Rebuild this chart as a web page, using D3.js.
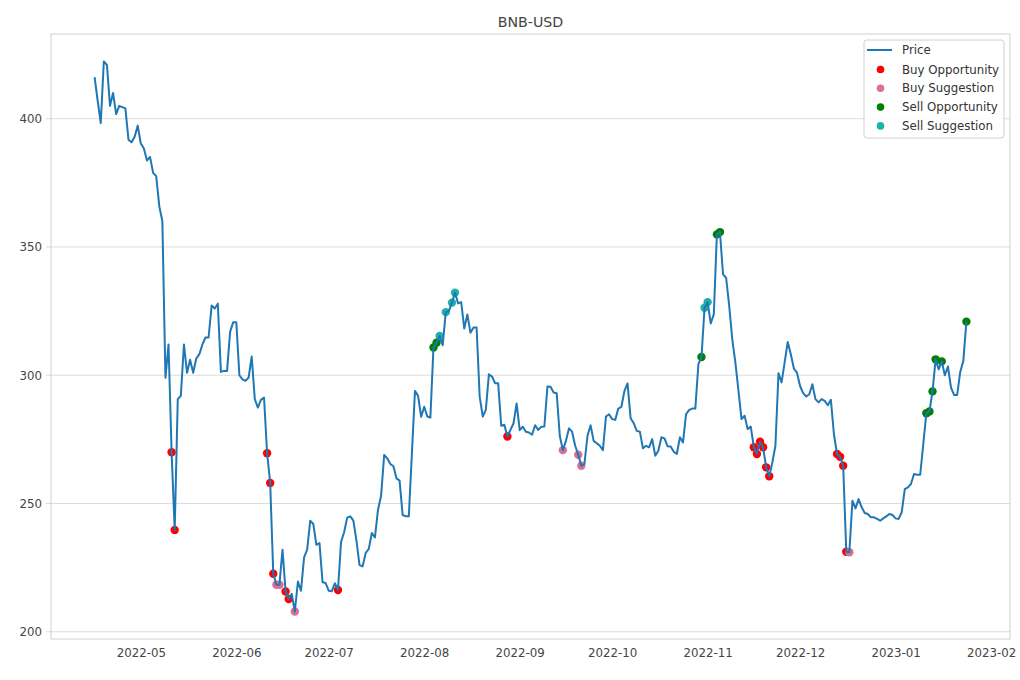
<!DOCTYPE html>
<html>
<head>
<meta charset="utf-8">
<script src="https://cdn.jsdelivr.net/npm/d3@7"></script>
<style>
  body { margin: 0; background: #fff; }
  text { font-family: "DejaVu Sans", sans-serif; }
</style>
</head>
<body>
<svg id="chart" width="1020" height="680"></svg>
<script>
// daily closing prices, starting 2022-04-16
const firstDay = "2022-04-16"
const prices = [
  416.2, 407, 398.3, 422.3, 421, 405, 410, 401.8, 405, 404.5, 404, 391.8, 390.8, 393, 397.3,
  390.3, 388.4, 383.7, 385.1, 378.9, 377.6, 365.9, 360, 299, 312, 270, 239.7, 290.7, 292, 312,
  301, 306, 301, 306.5, 308.2, 312, 314.7, 314.7, 327.2, 326, 327.9, 301.3, 301.7, 301.7, 317, 320.7,
  320.7, 300, 298.4, 297.8, 299.1, 307.3, 290.7, 287.4, 290.4, 291.3, 269.6, 258, 222.6, 218.3, 218.3,
  232, 215.7, 212.8, 214.8, 207.9, 219.6, 216, 229, 232, 243.3, 242, 233.9, 234.6, 219.3, 219,
  216, 215.8, 218.9, 216.3, 235, 238.8, 244.5, 245, 243.3, 235.5, 226, 225.5, 230.7, 232.3, 238.5,
  236.8, 247.6, 253, 268.9, 267.6, 265.4, 264.5, 259.8, 258.9, 245.5, 245, 245, 269.6, 293.9, 292, 283.8,
  287.7, 283.9, 283.5, 310.8, 312.7, 315.3, 311.7, 324.6, 325, 328.3, 332.2, 328, 328.5, 318.2, 323.7,
  316.6, 318.6, 318.6, 291.7, 283.9, 286.5, 300.4, 299.5, 296.9, 296.9, 280.3, 280.7, 276.1, 278.7, 281.3, 289,
  278.6, 279.9, 278, 277.7, 276.8, 280.5, 278.7, 279.9, 280, 295.6, 295.5, 293.3, 293, 276.4, 270.8,
  274.4, 279.3, 278, 272.5, 269, 264.7, 265.4, 276.4, 280.5, 274.4, 273.5, 272.5, 270.8, 283.9, 284.8,
  282.9, 282.6, 287, 287.7, 293.9, 296.8, 283.2, 281.3, 278.3, 278, 271.5, 272.5, 271.9, 275.1, 268.6,
  270.6, 275.8, 275.4, 272.3, 272.2, 270.2, 269.3, 275.8, 273.8, 284.8, 286.5, 287, 287, 304.3, 307.1, 326.3,
  328.5, 320.2, 323.7, 354.9, 355.8, 339.3, 338, 327, 314, 305, 294, 282.9, 284.2, 279, 280,
  271.9, 269.3, 274.1, 271.9, 264.1, 260.6, 266, 272.5, 300.8, 297.2, 305, 313, 308.2, 302.6, 301,
  295.8, 293, 291.7, 292.6, 296.5, 290.7, 289.4, 290.7, 290, 288.3, 290.4, 277, 269.3, 268.2, 264.7,
  231.2, 231, 251.1, 248.1, 251.7, 248.5, 246.3, 245.9, 244.6, 244.6, 244, 243.3, 244.2, 245, 245.9, 245.5,
  244.2, 244, 246.6, 255.6, 256.3, 257.6, 261.5, 261.2, 261.2, 273.2, 285.2, 285.9, 293.7, 306.2, 302.3,
  305.4, 300, 303.4, 295.2, 292.3, 292.3, 301.3, 305.6, 320.9
]

// signal days
const buyOpportunity = ["2022-05-11", "2022-05-12", "2022-06-11", "2022-06-12", "2022-06-13", "2022-06-17",
  "2022-06-18", "2022-07-04", "2022-08-28", "2022-11-16", "2022-11-17", "2022-11-18", "2022-11-19",
  "2022-11-20", "2022-11-21", "2022-12-13", "2022-12-14", "2022-12-15", "2022-12-16"]
const buySuggestion = ["2022-06-14", "2022-06-15", "2022-06-20", "2022-09-15", "2022-09-20", "2022-09-21",
  "2022-12-17"]
const sellOpportunity = ["2022-08-04", "2022-08-05", "2022-10-30", "2022-11-04", "2022-11-05", "2023-01-11",
  "2023-01-12", "2023-01-13", "2023-01-14", "2023-01-16", "2023-01-24"]
const sellSuggestion = ["2022-08-06", "2022-08-08", "2022-08-10", "2022-08-11", "2022-10-31", "2022-11-01"]

const yTicks = [200, 250, 300, 350, 400]
const xTickLabels = ["2022-05", "2022-06", "2022-07", "2022-08", "2022-09", "2022-10", "2022-11", "2022-12", "2023-01", "2023-02"]

const width = 1020
const height = 680
const margin = {top: 34, right: 10, bottom: 41, left: 51}
const fontSize = 11.8

const parseDay = d3.timeParse("%Y-%m-%d")
const parseMonth = d3.timeParse("%Y-%m")
const start = parseDay(firstDay)
const series = prices.map(function(p, i) {
  return {date: d3.timeDay.offset(start, i), price: p}
})
const byDay = new Map(series.map(function(d) { return [d3.timeFormat("%Y-%m-%d")(d.date), d] }))

const svg = d3.select("#chart")

// matplotlib style 5% padding
const xExt = d3.extent(series, function(d) { return d.date })
const xPad = (xExt[1] - xExt[0]) * 0.05
const yExt = d3.extent(series, function(d) { return d.price })
const yPad = (yExt[1] - yExt[0]) * 0.05

const x = d3.scaleTime()
  .domain([new Date(+xExt[0] - xPad), new Date(+xExt[1] + xPad)])
  .range([margin.left, width - margin.right])
const y = d3.scaleLinear()
  .domain([yExt[0] - yPad, yExt[1] + yPad])
  .range([height - margin.bottom, margin.top])

// grid
svg.append("g")
  .selectAll("line")
  .data(yTicks)
  .join("line")
  .attr("x1", margin.left - 5)
  .attr("x2", width - margin.right)
  .attr("y1", function(d) { return y(d) })
  .attr("y2", function(d) { return y(d) })
  .attr("stroke", "#dcdcdc")
  .attr("stroke-width", 1)

// frame
svg.append("rect")
  .attr("x", margin.left)
  .attr("y", margin.top)
  .attr("width", width - margin.left - margin.right)
  .attr("height", height - margin.top - margin.bottom)
  .attr("fill", "none")
  .attr("stroke", "#d0d0d0")
  .attr("stroke-width", 1)

// axes
const xAxis = d3.axisBottom(x)
  .tickValues(xTickLabels.map(parseMonth))
  .tickFormat(d3.timeFormat("%Y-%m"))
  .tickSize(0)
  .tickPadding(10)
svg.append("g")
  .attr("transform", "translate(0," + (height - margin.bottom) + ")")
  .call(xAxis)
  .call(function(g) { g.select(".domain").remove() })
  .selectAll("text")
  .attr("font-size", fontSize)
  .attr("fill", "#444")
  .attr("font-family", "DejaVu Sans")

const yAxis = d3.axisLeft(y)
  .tickValues(yTicks)
  .tickSize(0)
  .tickPadding(9)
svg.append("g")
  .attr("transform", "translate(" + margin.left + ",0)")
  .call(yAxis)
  .call(function(g) { g.select(".domain").remove() })
  .selectAll("text")
  .attr("font-size", fontSize)
  .attr("fill", "#444")
  .attr("font-family", "DejaVu Sans")

// signal markers (under the line, like matplotlib)
const signals = [
  {name: "Buy Opportunity", days: buyOpportunity, color: "#ff0000"},
  {name: "Buy Suggestion", days: buySuggestion, color: "#db7093"},
  {name: "Sell Opportunity", days: sellOpportunity, color: "#008000"},
  {name: "Sell Suggestion", days: sellSuggestion, color: "#20b2aa"}
]

signals.forEach(function(s) {
  svg.append("g")
    .selectAll("circle")
    .data(s.days.map(function(d) { return byDay.get(d) }))
    .join("circle")
    .attr("cx", function(d) { return x(d.date) })
    .attr("cy", function(d) { return y(d.price) })
    .attr("r", 4.2)
    .attr("fill", s.color)
})

// price line
const line = d3.line()
  .x(function(d) { return x(d.date) })
  .y(function(d) { return y(d.price) })
svg.append("path")
  .datum(series)
  .attr("d", line)
  .attr("fill", "none")
  .attr("stroke", "#1f77b4")
  .attr("stroke-width", 2)
  .attr("stroke-linejoin", "round")

// title
svg.append("text")
  .attr("x", (margin.left + width - margin.right) / 2)
  .attr("y", 27)
  .attr("text-anchor", "middle")
  .attr("font-size", 14.2)
  .attr("fill", "#444")
  .text("BNB-USD")

// legend
const legend = svg.append("g").attr("transform", "translate(864,40)")
legend.append("rect")
  .attr("width", 140)
  .attr("height", 98)
  .attr("rx", 3)
  .attr("fill", "#fff")
  .attr("fill-opacity", 0.85)
  .attr("stroke", "#d0d0d0")

legend.append("line")
  .attr("x1", 3).attr("x2", 28)
  .attr("y1", 10).attr("y2", 10)
  .attr("stroke", "#1f77b4")
  .attr("stroke-width", 2)
legend.append("text")
  .attr("x", 38).attr("y", 10)
  .attr("dy", "0.35em")
  .attr("font-size", fontSize)
  .attr("fill", "#333")
  .text("Price")

legend.selectAll("circle.key")
  .data(signals)
  .join("circle")
  .attr("class", "key")
  .attr("cx", 16.5)
  .attr("cy", function(d, i) { return 29.5 + i * 18.8 })
  .attr("r", 3.8)
  .attr("fill", function(d) { return d.color })
legend.selectAll("text.key")
  .data(signals)
  .join("text")
  .attr("class", "key")
  .attr("x", 38)
  .attr("y", function(d, i) { return 29.5 + i * 18.8 })
  .attr("dy", "0.35em")
  .attr("font-size", fontSize)
  .attr("fill", "#333")
  .text(function(d) { return d.name })
</script>
</body>
</html>
